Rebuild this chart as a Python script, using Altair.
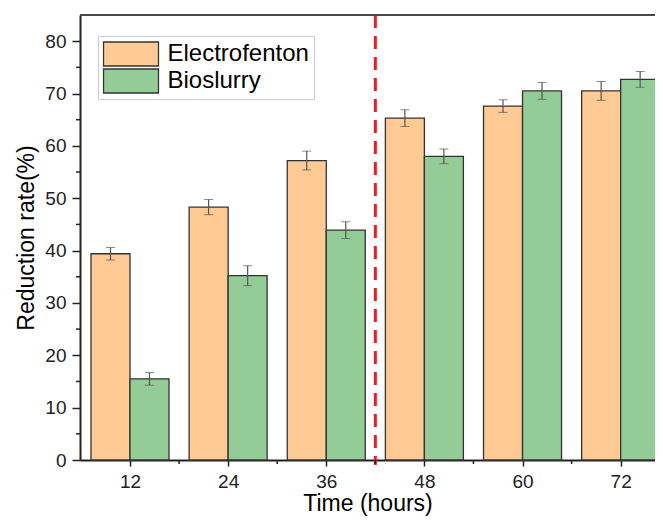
import altair as alt
import pandas as pd

# ---- data ----
hours = [12, 24, 36, 48, 60, 72]
electro = [39.4, 48.3, 57.2, 65.3, 67.6, 70.5]
electro_err = [1.2, 1.45, 1.8, 1.6, 1.2, 1.8]
bio = [15.5, 35.2, 43.9, 58.0, 70.5, 72.7]
bio_err = [1.2, 1.9, 1.6, 1.4, 1.6, 1.5]
series = ["Electrofenton", "Bioslurry"]
colors = ["#FFCA94", "#93CC96"]
x_ticks = [12, 24, 36, 48, 60, 72]
x_minor = [18, 30, 42, 54, 66]
y_ticks = [0, 10, 20, 30, 40, 50, 60, 70, 80]
y_minor = [5, 15, 25, 35, 45, 55, 65, 75]
divider = [42]

rows = []
for h, v, e in zip(hours, electro, electro_err):
    rows.append({"hour": h, "series": "Electrofenton", "value": v, "err": e})
for h, v, e in zip(hours, bio, bio_err):
    rows.append({"hour": h, "series": "Bioslurry", "value": v, "err": e})
df = pd.DataFrame(rows)

W, H = 575, 445
BW = 4.77  # bar width in hours
FONT = "Liberation Sans"
XT = "Time (hours)"
YT = "Reduction rate(%)"

xscale = alt.Scale(domain=[5.886, 76.2], nice=False, zero=False)
yscale = alt.Scale(domain=[0, 85], nice=False)
xaxis = alt.Axis(values=x_ticks, format="d", tickSize=6, labelPadding=6, titlePadding=1,
                 titleFontSize=23)
yaxis = alt.Axis(values=y_ticks, tickSize=8, labelPadding=6, titlePadding=6,
                 titleFontSize=23)

base = alt.Chart(df).transform_calculate(
    x0=f"datum.series == 'Electrofenton' ? datum.hour - {BW} : datum.hour",
    x1=f"datum.series == 'Electrofenton' ? datum.hour : datum.hour + {BW}",
    xc=f"datum.series == 'Electrofenton' ? datum.hour - {BW/2} : datum.hour + {BW/2}",
    lo="datum.value - datum.err",
    hi="datum.value + datum.err",
)

bars = base.mark_bar(stroke="#333333", strokeWidth=1.3).encode(
    x=alt.X("x0:Q", scale=xscale, title=XT, axis=xaxis),
    x2="x1:Q",
    y=alt.Y("value:Q", scale=yscale, title=YT, axis=yaxis),
    y2=alt.datum(0),
    color=alt.Color("series:N", scale=alt.Scale(domain=series, range=colors),
                    legend=alt.Legend(orient="none", legendX=18, legendY=21, title=None,
                                      symbolType="M-1,-0.923H3.23V0.923H-1Z", symbolSize=676,
                                      symbolStrokeColor="#333333", symbolStrokeWidth=1.3,
                                      symbolOpacity=1, clipHeight=27,
                                      labelFont=FONT, labelFontSize=24, labelColor="black",
                                      labelOffset=37, rowPadding=0,
                                      strokeColor="#cccccc", fillColor="white", padding=4.5)),
)

errs = base.mark_errorbar(ticks={"size": 9, "color": "#555555", "strokeWidth": 1.2},
                          rule={"color": "#555555", "strokeWidth": 1.2}).encode(
    x=alt.X("xc:Q", scale=xscale, title=XT, axis=xaxis),
    y=alt.Y("lo:Q", scale=yscale, title=YT, axis=yaxis),
    y2="hi:Q",
)

dash = alt.Chart(pd.DataFrame({"x": divider})).mark_rule(
    color="#ee1c25", strokeWidth=3, strokeDash=[13, 8]).encode(
    x=alt.X("x:Q", scale=xscale, title=XT, axis=xaxis),
    y=alt.value(0), y2=alt.value(H + 5),
)

top = alt.Chart(pd.DataFrame({"a": [0]})).mark_rule(color="#4a4a4a", strokeWidth=2.2).encode(
    x=alt.value(0), x2=alt.value(W + 10), y=alt.value(0))

xminor = alt.Chart(pd.DataFrame({"m": x_minor})).mark_rule(color="#222222", strokeWidth=1.5).encode(
    x=alt.X("m:Q", scale=xscale, title=XT, axis=xaxis), y=alt.value(H), y2=alt.value(H + 4))

yminor = alt.Chart(pd.DataFrame({"m": y_minor})).mark_rule(color="#222222", strokeWidth=1.5).encode(
    y=alt.Y("m:Q", scale=yscale, title=YT, axis=yaxis), x=alt.value(-4), x2=alt.value(0))

chart = alt.layer(bars, errs, dash, xminor, yminor, top).properties(
    width=W, height=H,
    autosize=alt.AutoSizeParams(type="none"),
    padding={"left": 72, "top": 7, "right": 0, "bottom": 60},
).configure_view(stroke=None).configure_axis(
    grid=False, domainColor="#222222", domainWidth=2, tickColor="#222222", tickWidth=1.5,
    labelFont=FONT, labelFontSize=19, labelColor="#222222",
    titleFont=FONT, titleFontWeight="normal", titleColor="black",
)

chart.save("out.html", embed_options={"renderer": "svg", "actions": False})
